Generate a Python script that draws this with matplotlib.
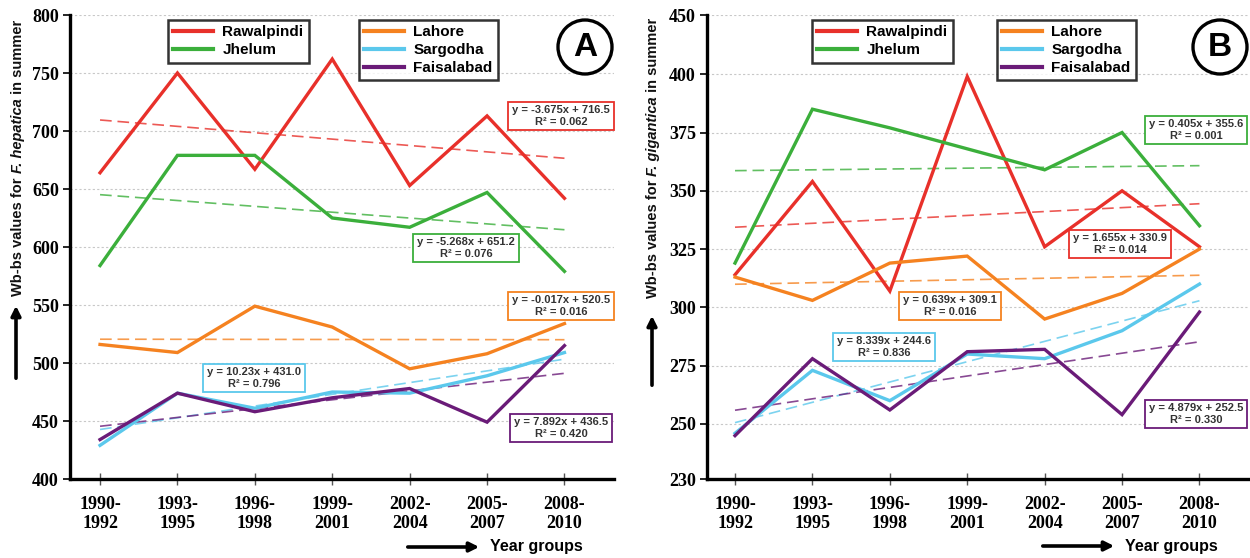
import matplotlib
matplotlib.use('Agg')
import matplotlib.pyplot as plt
import numpy as np
from matplotlib.patches import Ellipse, FancyArrowPatch
from matplotlib.lines import Line2D

plt.rcParams['font.family'] = ['Liberation Sans', 'DejaVu Sans']

# ---------------- data ----------------
year_groups = ['1990-\n1992', '1993-\n1995', '1996-\n1998', '1999-\n2001',
               '2002-\n2004', '2005-\n2007', '2008-\n2010']
cities = ['Rawalpindi', 'Jhelum', 'Lahore', 'Sargodha', 'Faisalabad']
city_colors = ['#E8302A', '#3BAF3B', '#F58220', '#5BC8EC', '#6A1B78']

# Panel A: F. hepatica
hep_rawalpindi = [664, 750, 667, 762, 653, 713, 642]
hep_jhelum     = [584, 679, 679, 625, 617, 647, 579]
hep_lahore     = [516, 509, 549, 531, 495, 508, 534]
hep_sargodha   = [429, 474, 461, 475, 474, 489, 509]
hep_faisalabad = [434, 474, 458, 470, 478, 449, 515]
hep_equations = ['y = -3.675x + 716.5\nR² = 0.062',
                 'y = -5.268x + 651.2\nR² = 0.076',
                 'y = -0.017x + 520.5\nR² = 0.016',
                 'y = 10.23x + 431.0\nR² = 0.796',
                 'y = 7.892x + 436.5\nR² = 0.420']
hep_yticks = [400, 450, 500, 550, 600, 650, 700, 750, 800]
hep_yticklabels = ['400', '450', '500', '550', '600', '650', '700', '750', '800']

# Panel B: F. gigantica
gig_rawalpindi = [314, 354, 307, 399, 326, 350, 326]
gig_jhelum     = [319, 385, 377, 368, 359, 375, 335]
gig_lahore     = [313, 303, 319, 322, 295, 306, 325]
gig_sargodha   = [246, 273, 260, 280, 278, 290, 310]
gig_faisalabad = [245, 278, 256, 281, 282, 254, 298]
gig_equations = ['y = 1.655x + 330.9\nR² = 0.014',
                 'y = 0.405x + 355.6\nR² = 0.001',
                 'y = 0.639x + 309.1\nR² = 0.016',
                 'y = 8.339x + 244.6\nR² = 0.836',
                 'y = 4.879x + 252.5\nR² = 0.330']
gig_yticks = [226.4, 250, 275, 300, 325, 350, 375, 400, 425.4]
gig_yticklabels = ['230', '250', '275', '300', '325', '350', '375', '400', '450']

W, H = 1250, 558
fig = plt.figure(figsize=(W / 100, H / 100), dpi=100)
renderer = fig.canvas.get_renderer()


def fx(x):
    return x / W


def fy(y):
    return 1 - y / H


def rotated_label(xpix, ycenter_pix, pieces, size):
    """Vertical label made of (text, style) pieces, reading bottom to top."""
    texts = []
    for s, style in pieces:
        t = fig.text(0, 0, s, rotation=90, rotation_mode='anchor', ha='left',
                     va='center', fontsize=size, fontweight='bold',
                     fontstyle=style, color='#111111')
        texts.append(t)
    lens = [t.get_window_extent(renderer).height for t in texts]
    total = sum(lens)
    y0 = (H - ycenter_pix) - total / 2  # display coords from bottom
    for t, L in zip(texts, lens):
        t.set_position((fx(xpix), y0 / H))
        y0 += L


def panel(rect, series, yticks, yticklabels, ylim, xlim, eq_texts, eq_pos,
          leg_pos, letter_pos, letter, species, ylabel_x, yarrow, xarrow):
    ax = fig.add_axes(rect)
    x = np.arange(len(year_groups))
    for vals, col in zip(series, city_colors):
        ax.plot(x, vals, color=col, lw=2.4, solid_joinstyle='miter', zorder=3)
        k, b = np.polyfit(x, vals, 1)
        ln, = ax.plot(x, k * x + b, color=col, lw=1.2, alpha=0.8, zorder=2)
        ln.set_dashes([7, 3.5])
    ax.set_xlim(*xlim)
    ax.set_ylim(*ylim)
    ax.set_yticks(yticks)
    ax.set_yticklabels(yticklabels)
    ax.set_xticks(x)
    ax.set_xticklabels(year_groups)
    for t in yticks[1:]:
        ax.axhline(t, color='#c8c8c8', lw=0.8, ls=(0, (2, 2)), zorder=1)
    for s in ['top', 'right']:
        ax.spines[s].set_visible(False)
    for s in ['left', 'bottom']:
        ax.spines[s].set_linewidth(2.4)
    ax.tick_params(axis='y', direction='out', length=5, width=1.2, pad=3)
    ax.tick_params(axis='x', direction='inout', length=8, width=1.0,
                   color='#555555', pad=8)
    for lab in ax.get_xticklabels() + ax.get_yticklabels():
        lab.set_fontfamily('Liberation Serif')
        lab.set_fontweight('bold')
        lab.set_fontsize(13)
    for lab in ax.get_xticklabels():
        lab.set_linespacing(1.2)

    # legends
    h = [Line2D([], [], color=c, lw=3) for c in city_colors]
    common = dict(frameon=True, fancybox=False, edgecolor='black',
                  prop={'weight': 'bold', 'size': 11}, handlelength=2.6,
                  handletextpad=0.6, labelspacing=0.25, borderpad=0.35,
                  loc='upper left', borderaxespad=0, bbox_transform=fig.transFigure)
    l1 = ax.legend(h[:2], cities[:2], bbox_to_anchor=(fx(leg_pos[0][0]), fy(leg_pos[0][1])), **common)
    l1.get_frame().set_linewidth(1.8)
    l1.get_frame().set_facecolor('white')
    ax.add_artist(l1)
    l2 = ax.legend(h[2:], cities[2:], bbox_to_anchor=(fx(leg_pos[1][0]), fy(leg_pos[1][1])), **common)
    l2.get_frame().set_linewidth(1.8)
    l2.get_frame().set_facecolor('white')

    # equations
    for txt, (px_, py_), col in zip(eq_texts, eq_pos, city_colors):
        fig.text(fx(px_), fy(py_), txt, ha='center', va='center', fontsize=8,
                 fontweight='bold', color='#333333', linespacing=1.15, zorder=5,
                 bbox=dict(boxstyle='square,pad=0.35', fc='white', ec=col, lw=1.3))

    # panel letter
    e = Ellipse((fx(letter_pos[0]), fy(letter_pos[1])), 54 / W, 54 / H,
                transform=fig.transFigure, fc='white', ec='black', lw=2.4)
    fig.patches.append(e)
    fig.text(fx(letter_pos[0]), fy(letter_pos[1]), letter, ha='center',
             va='center', fontsize=24, fontweight='bold')

    # y label and arrow
    rotated_label(ylabel_x, 158, [('Wb-bs values for ', 'normal'),
                                  (species, 'italic'),
                                  (' in summer', 'normal')], 10.5)
    fig.add_artist(FancyArrowPatch(
        (fx(yarrow[0]), fy(yarrow[1])), (fx(yarrow[0]), fy(yarrow[2])),
        transform=fig.transFigure, arrowstyle='-|>', mutation_scale=14,
        lw=2.6, color='black'))
    # x label and arrow
    fig.add_artist(FancyArrowPatch(
        (fx(xarrow[0]), fy(xarrow[2])), (fx(xarrow[1]), fy(xarrow[2])),
        transform=fig.transFigure, arrowstyle='-|>', mutation_scale=14,
        lw=2.6, color='black'))
    fig.text(fx(xarrow[1] + 8), fy(xarrow[2]), 'Year groups', ha='left',
             va='center', fontsize=11.5, fontweight='bold')
    return ax


panel([fx(70), fy(479), fx(614 - 70), (479 - 15) / H],
      [hep_rawalpindi, hep_jhelum, hep_lahore, hep_sargodha, hep_faisalabad],
      hep_yticks, hep_yticklabels, (400, 800), (-0.388, 6.64), hep_equations,
      [(561, 116), (466, 248), (561, 306), (254, 378), (561, 428)],
      [(168, 20), (359, 20)], (585, 47), 'A', 'F. hepatica', 18,
      (16, 381, 303), (405, 482, 547))

panel([fx(707), fy(479), fx(1249 - 707), (479 - 15) / H],
      [gig_rawalpindi, gig_jhelum, gig_lahore, gig_sargodha, gig_faisalabad],
      gig_yticks, gig_yticklabels, (226.4, 425.4), (-0.362, 6.64), gig_equations,
      [(1120, 244), (1196, 130), (950, 306), (884, 347), (1196, 414)],
      [(812, 20), (997, 20)], (1220, 47), 'B', 'F. gigantica', 653,
      (652, 388, 313), (1040, 1117, 546))

fig.savefig('out.png', dpi=100)
